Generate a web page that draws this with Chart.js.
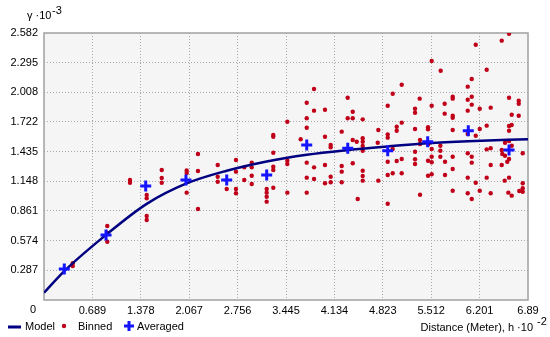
<!DOCTYPE html>
<html>
<head>
<meta charset="utf-8">
<script src="https://cdn.jsdelivr.net/npm/chart.js@4"></script>
<style>
  html, body { margin: 0; padding: 0; background: #fff; }
</style>
</head>
<body>
<canvas id="chart" width="550" height="337"></canvas>
<script>
// tick positions (x in 10^-2 m, y in 10^-3)
const xTicks = [0, 0.689, 1.378, 2.067, 2.756, 3.445, 4.134, 4.823, 5.512, 6.201, 6.89];
const yTicks = [0, 0.287, 0.574, 0.861, 1.148, 1.435, 1.722, 2.008, 2.295, 2.582];

// fitted model curve
const modelX = [0, 0.289, 0.883, 1.462, 2.021, 2.601, 3.170, 3.740, 4.323, 4.893, 5.462, 6.040, 6.89];
const modelY = [0.07, 0.28, 0.63, 0.93, 1.125, 1.25, 1.34, 1.405, 1.45, 1.485, 1.515, 1.535, 1.555];

// averaged lag values
const avgX = [0.289, 0.883, 1.448, 2.021, 2.601, 3.170, 3.740, 4.324, 4.893, 5.462, 6.040, 6.620];
const avgY = [0.300, 0.629, 1.102, 1.160, 1.160, 1.209, 1.499, 1.467, 1.444, 1.531, 1.637, 1.451];

// binned pairs [distance, semivariance]
const binned = [
  [0.409, 0.355], [0.409, 0.329], [0.901, 0.716], [0.901, 0.648], [0.901, 0.564],
  [1.224, 1.160], [1.224, 1.134], [1.462, 1.015], [1.462, 0.983], [1.462, 0.812],
  [1.462, 0.774], [1.676, 1.257], [1.676, 1.180], [1.676, 1.134], [2.031, 1.252],
  [2.031, 1.228], [2.031, 1.038], [2.192, 1.412], [2.192, 1.247], [2.192, 0.880],
  [2.473, 1.306], [2.473, 1.192], [2.473, 1.144], [2.601, 1.073], [2.733, 1.354],
  [2.733, 1.241], [2.733, 1.073], [2.733, 1.032], [2.851, 1.283], [2.851, 1.160],
  [2.957, 1.328], [2.957, 1.283], [2.957, 1.202], [2.957, 1.122], [3.170, 1.073],
  [3.170, 1.038], [3.170, 0.999], [3.170, 0.951], [3.264, 1.596], [3.264, 1.579],
  [3.264, 1.424], [3.264, 1.289], [3.264, 1.257], [3.264, 1.086], [3.464, 1.724],
  [3.464, 1.347], [3.464, 1.315], [3.464, 1.038], [3.654, 1.554], [3.740, 1.908],
  [3.740, 1.757], [3.740, 1.666], [3.740, 1.328], [3.740, 1.183], [3.740, 1.038],
  [3.844, 2.040], [3.844, 1.831], [3.844, 1.283], [3.844, 1.170], [4.000, 1.840],
  [4.000, 1.579], [4.000, 1.306], [4.000, 1.129], [4.081, 1.499], [4.081, 1.477],
  [4.081, 1.192], [4.081, 1.138], [4.238, 1.628], [4.238, 1.296], [4.238, 1.241],
  [4.238, 1.138], [4.323, 1.956], [4.323, 1.757], [4.395, 1.821], [4.395, 1.757],
  [4.395, 1.547], [4.395, 1.322], [4.452, 1.531], [4.466, 0.977], [4.537, 1.747],
  [4.537, 1.564], [4.537, 1.531], [4.537, 1.489], [4.537, 1.444], [4.537, 1.250],
  [4.537, 1.199], [4.537, 1.154], [4.759, 1.644], [4.759, 1.154], [4.751, 1.521],
  [4.893, 1.879], [4.893, 1.602], [4.893, 1.570], [4.893, 1.337], [4.893, 1.209],
  [4.893, 0.931], [4.964, 1.995], [4.964, 1.460], [4.964, 1.225], [5.021, 1.676],
  [5.021, 1.637], [5.021, 1.344], [5.092, 2.082], [5.092, 1.715], [5.092, 1.364],
  [5.092, 1.225], [5.282, 1.850], [5.282, 1.811], [5.282, 1.654], [5.282, 1.434],
  [5.282, 1.361], [5.282, 1.315], [5.348, 1.947], [5.353, 1.547], [5.353, 1.509],
  [5.353, 1.018], [5.467, 1.670], [5.467, 1.651], [5.471, 1.506], [5.467, 1.347],
  [5.467, 1.202], [5.519, 2.311], [5.519, 1.879], [5.519, 1.460], [5.519, 1.386],
  [5.519, 1.332], [5.519, 1.216], [5.647, 2.217], [5.642, 1.492], [5.642, 1.444],
  [5.642, 1.386], [5.704, 1.898], [5.704, 1.802], [5.709, 1.337], [5.709, 1.209],
  [5.818, 1.966], [5.818, 1.947], [5.818, 1.782], [5.818, 1.763], [5.818, 1.644],
  [5.818, 1.386], [5.818, 1.267], [5.818, 1.057], [6.032, 2.063], [6.032, 1.937],
  [6.032, 1.831], [6.032, 1.605], [6.032, 1.419], [6.032, 1.183], [6.032, 1.032],
  [6.089, 2.137], [6.089, 1.966], [6.089, 1.889], [6.089, 1.386], [6.089, 1.328],
  [6.089, 0.977], [6.146, 2.469], [6.146, 1.589], [6.146, 1.134], [6.203, 1.850],
  [6.203, 1.654], [6.203, 1.057], [6.302, 2.227], [6.302, 1.686], [6.302, 1.457],
  [6.302, 1.183], [6.359, 1.860], [6.359, 1.467], [6.359, 1.306], [6.359, 1.032],
  [6.516, 2.508], [6.516, 1.451], [6.524, 1.412], [6.516, 1.306], [6.563, 1.521],
  [6.563, 1.395], [6.558, 1.154], [6.620, 2.575], [6.620, 1.956], [6.620, 1.683],
  [6.658, 1.692], [6.620, 1.637], [6.620, 1.538], [6.620, 1.364], [6.620, 1.183],
  [6.610, 1.038], [6.658, 1.792], [6.658, 1.492], [6.658, 1.009], [6.595, 1.337],
  [6.758, 1.927], [6.758, 1.898], [6.758, 1.782], [6.766, 1.054], [6.815, 1.419],
  [6.815, 1.129], [6.815, 1.080], [6.815, 1.047]
];

const FONT = '"Liberation Sans", Arial, sans-serif';
const navy = '#000080';
const red = '#c00018';
const blue = '#1414ff';

// background, frame and extra texts
const decor = {
  id: 'decor',
  beforeDraw(chart) {
    const { ctx, chartArea: a } = chart;
    ctx.save();
    ctx.fillStyle = '#f5f5f5';
    ctx.fillRect(a.left, a.top, a.right - a.left, a.bottom - a.top);
    ctx.restore();
  },
  beforeDatasetsDraw(chart) {
    const { ctx, chartArea: a } = chart;
    ctx.save();
    ctx.strokeStyle = '#a0a0a0';
    ctx.lineWidth = 1.5;
    ctx.strokeRect(a.left, a.top, a.right - a.left, a.bottom - a.top);
    ctx.restore();
  },
  afterDraw(chart) {
    const ctx = chart.ctx;
    ctx.save();
    ctx.fillStyle = '#000';
    ctx.font = '11px ' + FONT;
    ctx.textBaseline = 'middle';

    // origin label
    ctx.textAlign = 'center';
    ctx.fillText('0', 33, 310);

    // y unit
    ctx.textAlign = 'left';
    ctx.fillText('\u03B3 \u00B710', 27, 16);
    ctx.fillText('-3', 52, 11);

    // x axis title
    ctx.textAlign = 'right';
    ctx.fillText('Distance (Meter), h \u00B710', 533, 328);
    ctx.textAlign = 'left';
    ctx.fillText('-2', 537, 322);

    // legend
    const ly = 327;
    ctx.strokeStyle = navy;
    ctx.lineWidth = 3;
    ctx.beginPath();
    ctx.moveTo(8, ly);
    ctx.lineTo(21, ly);
    ctx.stroke();
    ctx.fillText('Model', 25, ly);

    ctx.fillStyle = red;
    ctx.beginPath();
    ctx.arc(64, ly - 1, 2.2, 0, Math.PI * 2);
    ctx.fill();
    ctx.fillStyle = '#000';
    ctx.fillText('Binned', 78, ly);

    ctx.strokeStyle = blue;
    ctx.beginPath();
    ctx.moveTo(124, ly - 1);
    ctx.lineTo(134, ly - 1);
    ctx.moveTo(129, ly - 6);
    ctx.lineTo(129, ly + 4);
    ctx.stroke();
    ctx.fillText('Averaged', 137, ly);
    ctx.restore();
  }
};

const gridColor = (ticks) => (ctx) =>
  (ctx.index === 0 || ctx.index === ticks.length - 1) ? 'rgba(0,0,0,0)' : '#a8a8a8';

new Chart(document.getElementById('chart'), {
  type: 'scatter',
  data: {
    datasets: [
      {
        label: 'Averaged',
        data: avgX.map((x, i) => ({ x: x, y: avgY[i] })),
        pointStyle: 'cross',
        pointRadius: 5.5,
        pointBorderWidth: 3,
        borderColor: blue,
        backgroundColor: blue
      },
      {
        label: 'Model',
        data: modelX.map((x, i) => ({ x: x, y: modelY[i] })),
        showLine: true,
        pointRadius: 0,
        borderColor: navy,
        borderWidth: 2.5,
        cubicInterpolationMode: 'monotone'
      },
      {
        label: 'Binned',
        data: binned.map(p => ({ x: p[0], y: p[1] })),
        pointStyle: 'circle',
        pointRadius: 2.2,
        borderWidth: 0,
        backgroundColor: red
      }
    ]
  },
  options: {
    responsive: false,
    animation: false,
    layout: { padding: { top: 33, right: 22, left: 0, bottom: 0 } },
    plugins: { legend: { display: false }, tooltip: { enabled: false } },
    scales: {
      x: {
        type: 'linear',
        min: 0,
        max: 6.89,
        afterBuildTicks: (s) => { s.ticks = xTicks.map(v => ({ value: v })); },
        afterFit: (s) => { s.height = 37; },
        ticks: {
          callback: (v, i) => i === 0 ? '' : String(xTicks[i]),
          font: { family: FONT, size: 11 },
          color: '#000',
          padding: 4,
          maxRotation: 0,
          autoSkip: false
        },
        grid: { color: gridColor(xTicks), drawTicks: false, lineWidth: 1 },
        border: { display: false, dash: [1, 2] }
      },
      y: {
        min: 0,
        max: 2.582,
        afterBuildTicks: (s) => { s.ticks = yTicks.map(v => ({ value: v })); },
        afterFit: (s) => { s.width = 44; },
        ticks: {
          callback: (v, i) => i === 0 ? '' : String(yTicks[i]),
          font: { family: FONT, size: 11 },
          color: '#000',
          padding: 6,
          autoSkip: false
        },
        grid: { color: gridColor(yTicks), drawTicks: false, lineWidth: 1 },
        border: { display: false, dash: [1, 2] }
      }
    }
  },
  plugins: [decor]
});
</script>
</body>
</html>
